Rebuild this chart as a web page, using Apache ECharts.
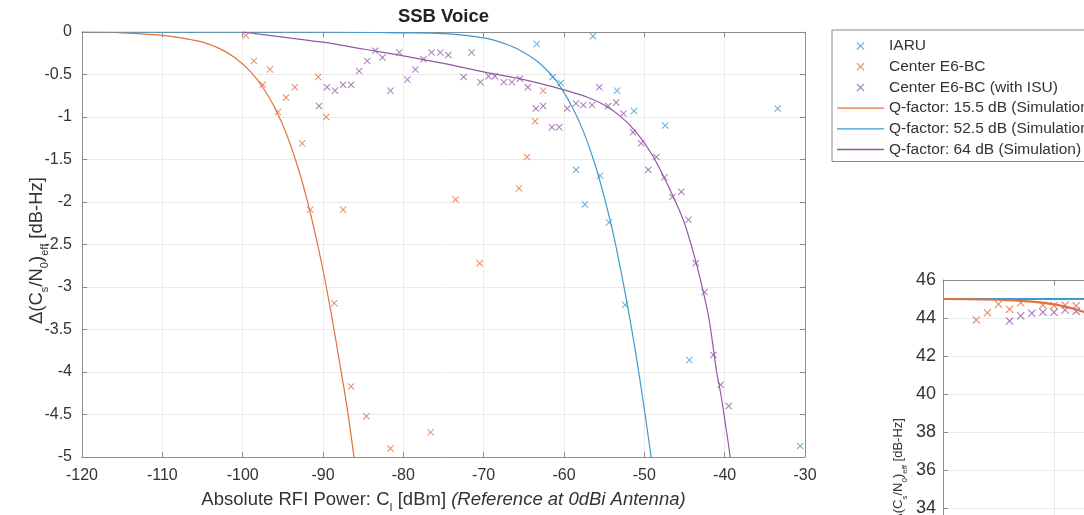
<!DOCTYPE html>
<html>
<head>
<meta charset="utf-8">
<script src="https://cdn.jsdelivr.net/npm/echarts@6/dist/echarts.min.js"></script>
<style>
  html, body { margin: 0; padding: 0; background: #fff; overflow: hidden; width: 1084px; height: 515px; }
  /* canvas is larger than the window: the second panel runs off the right and bottom edges */
  #chart { width: 2000px; height: 800px; }
</style>
</head>
<body>
<div id="chart"></div>
<script>
// measured points, [C_I dBm, delta dB-Hz]
const iaruPts = [[-63.4, -0.14], [-61.4, -0.53], [-60.4, -0.6], [-58.5, -1.62], [-57.4, -2.03], [-56.4, -0.05],
  [-55.5, -1.69], [-54.4, -2.24], [-53.4, -0.69], [-52.4, -3.21], [-51.3, -0.93], [-47.4, -1.1],
  [-44.4, -3.86], [-33.4, -0.9], [-30.6, -4.87]]
const e6bcPts = [[-99.6, -0.04], [-98.6, -0.34], [-97.5, -0.62], [-96.6, -0.44], [-95.6, -0.94], [-94.6, -0.77],
  [-93.5, -0.65], [-92.6, -1.31], [-91.6, -2.09], [-90.6, -0.53], [-89.6, -1.0], [-88.6, -3.19],
  [-87.5, -2.09], [-86.5, -4.17], [-84.6, -4.52], [-81.6, -4.9], [-76.6, -4.71], [-73.5, -1.97],
  [-70.5, -2.72], [-65.6, -1.84], [-64.6, -1.47], [-63.6, -1.05], [-62.6, -0.69]]
const isuPts = [[-90.5, -0.87], [-89.5, -0.65], [-88.5, -0.69], [-87.5, -0.62], [-86.5, -0.62], [-85.5, -0.46],
  [-84.5, -0.34], [-83.5, -0.22], [-82.6, -0.3], [-81.6, -0.69], [-80.5, -0.24], [-79.5, -0.56],
  [-78.5, -0.44], [-77.5, -0.32], [-76.5, -0.24], [-75.4, -0.24], [-74.4, -0.27], [-72.5, -0.53],
  [-71.5, -0.24], [-70.4, -0.59], [-69.4, -0.52], [-68.6, -0.52], [-67.5, -0.59], [-66.5, -0.59],
  [-65.5, -0.55], [-64.5, -0.65], [-63.5, -0.9], [-62.6, -0.87], [-61.5, -1.12], [-60.6, -1.12],
  [-59.6, -0.9], [-58.5, -0.84], [-57.6, -0.86], [-56.5, -0.86], [-55.6, -0.65], [-54.5, -0.87],
  [-53.5, -0.83], [-52.6, -0.96], [-51.4, -1.18], [-50.4, -1.31], [-49.5, -1.62], [-48.5, -1.47],
  [-47.5, -1.71], [-46.5, -1.94], [-45.4, -1.88], [-44.5, -2.21], [-43.6, -2.72], [-42.5, -3.06],
  [-41.4, -3.8], [-40.5, -4.15], [-39.5, -4.4]]

// simulation curves
const q155Curve = [[-120, 0], [-115, -0.01], [-110, -0.04], [-107, -0.08], [-105, -0.12], [-103, -0.19],
  [-101, -0.3], [-99, -0.47], [-97.5, -0.65], [-96, -0.89], [-94.5, -1.21], [-93, -1.63], [-92, -1.97],
  [-91, -2.36], [-90, -2.8], [-89, -3.3], [-88, -3.85], [-87, -4.42], [-86, -5.1]]
const q525Curve = [[-120, 0], [-90, 0], [-80, -0.01], [-75, -0.02], [-70, -0.07], [-67, -0.15], [-65, -0.24],
  [-63, -0.37], [-61, -0.57], [-59, -0.88], [-57.5, -1.19], [-56, -1.6], [-55, -1.94], [-54, -2.32],
  [-53, -2.77], [-52, -3.27], [-51, -3.82], [-50, -4.44], [-49, -5.1]]
const q64Curve = [[-100, 0], [-95, -0.06], [-90, -0.12], [-85, -0.2], [-80, -0.28], [-75, -0.37], [-70, -0.47],
  [-65, -0.56], [-60, -0.68], [-57, -0.77], [-55, -0.86], [-53, -0.99], [-51, -1.18], [-49, -1.45],
  [-47.5, -1.72], [-46, -2.02], [-45, -2.25], [-44, -2.56], [-43, -2.92], [-42, -3.35], [-41.5, -3.66],
  [-41, -4.0], [-40.5, -4.25], [-40, -4.55], [-39.3, -5.0]]

// second (cropped) panel, bottom right
const insetE6bc = [[-117, 43.9], [-116, 44.28], [-115, 44.72], [-114, 44.46], [-113, 44.8], [-111, 44.68],
  [-110, 44.66], [-109, 44.68], [-108, 44.64]]
const insetIsu = [[-114, 43.84], [-113, 44.12], [-112, 44.25], [-111, 44.3], [-110, 44.3], [-109, 44.42], [-108, 44.35]]
const insetQ155 = [[-120, 45.0], [-115, 44.96], [-112, 44.86], [-110, 44.72], [-109, 44.6], [-108, 44.45], [-107, 44.25]]
const insetQ525 = [[-120, 45.0], [-30, 45.0]]

const xTicks = { min: -120, max: -30, interval: 10 }
const yTicks = { min: -5, max: 0, interval: 0.5 }
const insetY = { min: 26, max: 46, interval: 2 }

const BLUE = '#3d9ad1'
const ORANGE = '#e2703f'
const PURPLE = '#9357a8'
const CROSS = 'path://M1,0L5,4L9,0L10,1L6,5L10,9L9,10L5,6L1,10L0,9L4,5L0,1Z'
const DASH = 'path://M0,0H47V1.3H0Z'
const FONT = 'Liberation Sans, Arial, sans-serif'
const AXIS_GRAY = '#8c8c8c'

const axisBase = (extra) => Object.assign({
    type: 'value',
    axisLine: { show: true, onZero: false, lineStyle: { color: AXIS_GRAY, width: 1 } },
    axisTick: { show: true, inside: true, length: 5, lineStyle: { color: AXIS_GRAY } },
    splitLine: { show: false },
    axisLabel: { show: false }
}, extra)

const chart = echarts.init(document.getElementById('chart'), null, { renderer: 'canvas' })

const scatter = (name, data, color, xi, yi, size) => ({
    name, type: 'scatter', data, xAxisIndex: xi, yAxisIndex: yi,
    symbol: CROSS, symbolSize: size, itemStyle: { color }, z: 3
})
const line = (name, data, color, xi, yi, width) => ({
    name, type: 'line', data, xAxisIndex: xi, yAxisIndex: yi,
    showSymbol: false, symbol: 'none', smooth: 0.35,
    lineStyle: { color, width }, itemStyle: { color }, z: 4
})

const labelRich = (size) => ({
    m: { fontSize: size, fontFamily: FONT, color: '#333', lineHeight: size + 2 },
    s: { fontSize: Math.round(size * 0.62), fontFamily: FONT, color: '#333', verticalAlign: 'bottom', lineHeight: size + 8 },
    i: { fontSize: size, fontFamily: FONT, fontStyle: 'italic', color: '#333', lineHeight: size + 2 }
})
const Y_NAME = '{m|Δ(C}{s|s}{m|/N}{s|0}{m|)}{s|eff}{m| [dB-Hz]}'

const option = {
    animation: false,
    backgroundColor: '#fff',
    grid: [
        { left: 82, top: 32, width: 723, height: 425 },
        { left: 943, top: 280, width: 999, height: 380 }
    ],
    xAxis: [
        axisBase(Object.assign({}, xTicks, {
            gridIndex: 0, position: 'bottom',
            splitLine: { show: true, lineStyle: { color: '#ebebeb' } },
            axisLabel: { show: true, margin: 11, fontSize: 16, fontFamily: FONT, color: '#333' },
            name: '{m|Absolute RFI Power: C}{s|I}{m| [dBm] }{i|(Reference at 0dBi Antenna)}',
            nameLocation: 'middle', nameGap: 30, nameMoveOverlap: false,
            nameTextStyle: { rich: labelRich(18.5) }
        })),
        axisBase(Object.assign({}, xTicks, { gridIndex: 0, position: 'top' })),
        axisBase(Object.assign({}, xTicks, {
            gridIndex: 1, position: 'bottom',
            splitLine: { show: true, lineStyle: { color: '#ebebeb' } }
        })),
        axisBase(Object.assign({}, xTicks, { gridIndex: 1, position: 'top' }))
    ],
    yAxis: [
        axisBase(Object.assign({}, yTicks, {
            gridIndex: 0, position: 'left',
            splitLine: { show: true, lineStyle: { color: '#ebebeb' } },
            axisLabel: { show: true, margin: 10, fontSize: 16, fontFamily: FONT, color: '#333' },
            name: Y_NAME,
            nameLocation: 'middle', nameGap: 32, nameMoveOverlap: false,
            nameTextStyle: { rich: labelRich(18.5), padding: [0, 12, 0, 0] }
        })),
        axisBase(Object.assign({}, yTicks, { gridIndex: 0, position: 'right' })),
        axisBase(Object.assign({}, insetY, {
            gridIndex: 1, position: 'left',
            splitLine: { show: true, lineStyle: { color: '#ebebeb' } },
            axisLabel: { show: true, margin: 7, fontSize: 18, fontFamily: FONT, color: '#333' },
            name: Y_NAME,
            nameLocation: 'middle', nameGap: 34, nameMoveOverlap: false,
            nameTextStyle: { rich: labelRich(13) }
        })),
        axisBase(Object.assign({}, insetY, { gridIndex: 1, position: 'right' }))
    ],
    legend: {
        orient: 'vertical',
        left: 832, top: 30,
        padding: [8, 30, 4, 5],
        itemWidth: 47, itemHeight: 8, itemGap: 4.7,
        borderColor: '#8a8a8a', borderWidth: 1, backgroundColor: '#fff',
        textStyle: { fontSize: 15.5, fontFamily: FONT, color: '#333', lineHeight: 14 },
        selectedMode: false,
        data: [
            { name: 'IARU', icon: CROSS, itemStyle: { color: BLUE } },
            { name: 'Center E6-BC', icon: CROSS, itemStyle: { color: ORANGE } },
            { name: 'Center E6-BC (with ISU)', icon: CROSS, itemStyle: { color: PURPLE } },
            { name: 'Q-factor: 15.5 dB (Simulation)', icon: DASH, itemStyle: { color: ORANGE } },
            { name: 'Q-factor: 52.5 dB (Simulation)', icon: DASH, itemStyle: { color: BLUE } },
            { name: 'Q-factor: 64 dB (Simulation)', icon: DASH, itemStyle: { color: PURPLE } }
        ]
    },
    graphic: [{
        type: 'text', x: 443.5, y: 17,
        style: { text: 'SSB Voice', font: 'bold 18.5px ' + FONT, fill: '#222', textAlign: 'center', textVerticalAlign: 'middle' }
    }],
    series: [
        scatter('IARU', iaruPts, BLUE, 0, 0, 7),
        scatter('Center E6-BC', e6bcPts, ORANGE, 0, 0, 7),
        scatter('Center E6-BC (with ISU)', isuPts, PURPLE, 0, 0, 7),
        line('Q-factor: 15.5 dB (Simulation)', q155Curve, ORANGE, 0, 0, 1.2),
        line('Q-factor: 52.5 dB (Simulation)', q525Curve, BLUE, 0, 0, 1.2),
        line('Q-factor: 64 dB (Simulation)', q64Curve, PURPLE, 0, 0, 1.2),
        scatter('inset E6-BC', insetE6bc, ORANGE, 2, 2, 8),
        scatter('inset ISU', insetIsu, PURPLE, 2, 2, 8),
        line('inset Q52.5', insetQ525, BLUE, 2, 2, 2.2),
        line('inset Q15.5', insetQ155, ORANGE, 2, 2, 2.2)
    ]
}

chart.setOption(option)
</script>
</body>
</html>
